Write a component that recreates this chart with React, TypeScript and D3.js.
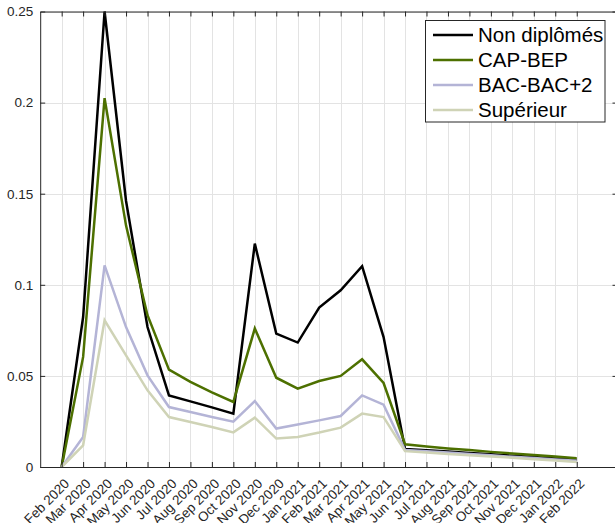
import React, { useEffect, useRef } from 'react';
import * as d3 from 'd3';

const months = [
  'Feb 2020', 'Mar 2020', 'Apr 2020', 'May 2020', 'Jun 2020', 'Jul 2020', 'Aug 2020',
  'Sep 2020', 'Oct 2020', 'Nov 2020', 'Dec 2020', 'Jan 2021', 'Feb 2021', 'Mar 2021',
  'Apr 2021', 'May 2021', 'Jun 2021', 'Jul 2021', 'Aug 2021', 'Sep 2021', 'Oct 2021',
  'Nov 2021', 'Dec 2021', 'Jan 2022', 'Feb 2022',
];

const nonDiplomes = [
  0, 0.0823, 0.25, 0.146, 0.0768, 0.0393, 0.036, 0.0327, 0.0293, 0.1226, 0.0732, 0.0683,
  0.0875, 0.097, 0.1102, 0.0713, 0.0099, 0.0092, 0.0085, 0.0077, 0.007, 0.0062, 0.0055,
  0.0047, 0.004,
];
const capBep = [
  0, 0.0604, 0.2024, 0.1325, 0.0833, 0.0534, 0.0467, 0.041, 0.0357, 0.076, 0.049, 0.043,
  0.0472, 0.05, 0.0591, 0.0461, 0.0125, 0.0113, 0.0102, 0.0093, 0.0083, 0.0074, 0.0066,
  0.0057, 0.0048,
];
const bacBac2 = [
  0, 0.0165, 0.1107, 0.0768, 0.0503, 0.0329, 0.0302, 0.0274, 0.0249, 0.0362, 0.0211, 0.0233,
  0.0256, 0.028, 0.0393, 0.0342, 0.0093, 0.0086, 0.0079, 0.0071, 0.0064, 0.0056, 0.0049,
  0.0041, 0.0034,
];
const superieur = [
  0, 0.0119, 0.0805, 0.0613, 0.0421, 0.0274, 0.0247, 0.022, 0.019, 0.0271, 0.0156, 0.0165,
  0.0189, 0.0216, 0.0293, 0.0274, 0.0087, 0.008, 0.0072, 0.0065, 0.0058, 0.0051, 0.0043,
  0.0036, 0.0028,
];

const seriesNames = ['Non diplômés', 'CAP-BEP', 'BAC-BAC+2', 'Supérieur'];
const seriesColors = ['#000000', '#4d7000', '#b4b4d6', '#cfd3b6'];
const yTicks = [0, 0.05, 0.1, 0.15, 0.2, 0.25];
const yTickLabels = ['0', '0.05', '0.1', '0.15', '0.2', '0.25'];

const FONT = '"Liberation Sans", Arial, Helvetica, sans-serif';
const AXIS = '#262626';

const App = () => {
  const ref = useRef<SVGSVGElement>(null);

  useEffect(() => {
    const svg = d3.select(ref.current);
    svg.selectAll('*').remove();

    const left = 40.2;
    const right = 617.5;
    const top = 11.5;
    const bottom = 467;

    const x = d3.scaleLinear().domain([-1, 25.9]).range([left, right]);
    const y = d3.scaleLinear().domain([0, 0.25]).range([bottom, top]);
    const idx = months.map((_, i) => i);

    // grid
    const grid = svg.append('g').attr('stroke', '#e3e3e3').attr('stroke-width', 1);
    grid.selectAll('.gx').data(idx).enter().append('line')
      .attr('x1', (d) => Math.round(x(d)) + 0.5).attr('x2', (d) => Math.round(x(d)) + 0.5)
      .attr('y1', top).attr('y2', bottom);
    grid.selectAll('.gy').data(yTicks).enter().append('line')
      .attr('x1', left).attr('x2', right)
      .attr('y1', (d) => Math.round(y(d)) + 0.5).attr('y2', (d) => Math.round(y(d)) + 0.5);

    // lines
    const allSeries = [nonDiplomes, capBep, bacBac2, superieur];
    const line = d3.line<number>().x((_, i) => x(i)).y((d) => y(d));
    svg.append('g').selectAll('path').data(allSeries).enter().append('path')
      .attr('d', (d) => line(d))
      .attr('fill', 'none')
      .attr('stroke', (_, i) => seriesColors[i])
      .attr('stroke-width', 2.5)
      .attr('stroke-linejoin', 'miter');

    // axes
    const styleAxis = (g: any) => {
      g.selectAll('path').attr('stroke', AXIS);
      g.selectAll('line').attr('stroke', AXIS);
      g.selectAll('text').attr('fill', AXIS).style('font-family', FONT).style('font-size', '13.5px');
    };

    const xb = svg.append('g').attr('transform', `translate(0,${bottom})`)
      .call(d3.axisBottom(x).tickValues(idx).tickSizeInner(-5).tickSizeOuter(0)
        .tickFormat((d: any) => months[d]));
    xb.selectAll('text')
      .attr('x', 8).attr('y', 17.5).attr('dy', 0)
      .attr('text-anchor', 'end')
      .attr('transform', 'rotate(-45, 8, 17.5)');
    styleAxis(xb);

    const xt = svg.append('g').attr('transform', `translate(0,${top})`)
      .call(d3.axisTop(x).tickValues(idx).tickSizeInner(-5).tickSizeOuter(0).tickFormat(() => ''));
    styleAxis(xt);

    const yl = svg.append('g').attr('transform', `translate(${left},0)`)
      .call(d3.axisLeft(y).tickValues(yTicks).tickSizeInner(-5).tickSizeOuter(0).tickPadding(7)
        .tickFormat((_, i) => yTickLabels[i]));
    styleAxis(yl);

    const yr = svg.append('g').attr('transform', `translate(${right},0)`)
      .call(d3.axisRight(y).tickValues(yTicks).tickSizeInner(-5).tickSizeOuter(0).tickFormat(() => ''));
    styleAxis(yr);

    // legend
    const lg = svg.append('g');
    lg.append('rect')
      .attr('x', 425.5).attr('y', 20.5).attr('width', 179.5).attr('height', 101.5)
      .attr('fill', '#fff').attr('stroke', AXIS).attr('stroke-width', 1);
    seriesNames.forEach((name, i) => {
      const cy = 35 + i * 25;
      lg.append('line')
        .attr('x1', 433).attr('x2', 473).attr('y1', cy).attr('y2', cy)
        .attr('stroke', seriesColors[i]).attr('stroke-width', 2.5);
      lg.append('text')
        .attr('x', 478).attr('y', cy).attr('dy', '0.35em')
        .style('font-family', FONT).style('font-size', '20.5px')
        .attr('fill', '#000')
        .text(name);
    });
  }, []);

  return (
    <svg
      ref={ref}
      width={615}
      height={523}
      style={{ position: 'absolute', left: 0, top: 0, background: '#fff' }}
    />
  );
};

export default App;
